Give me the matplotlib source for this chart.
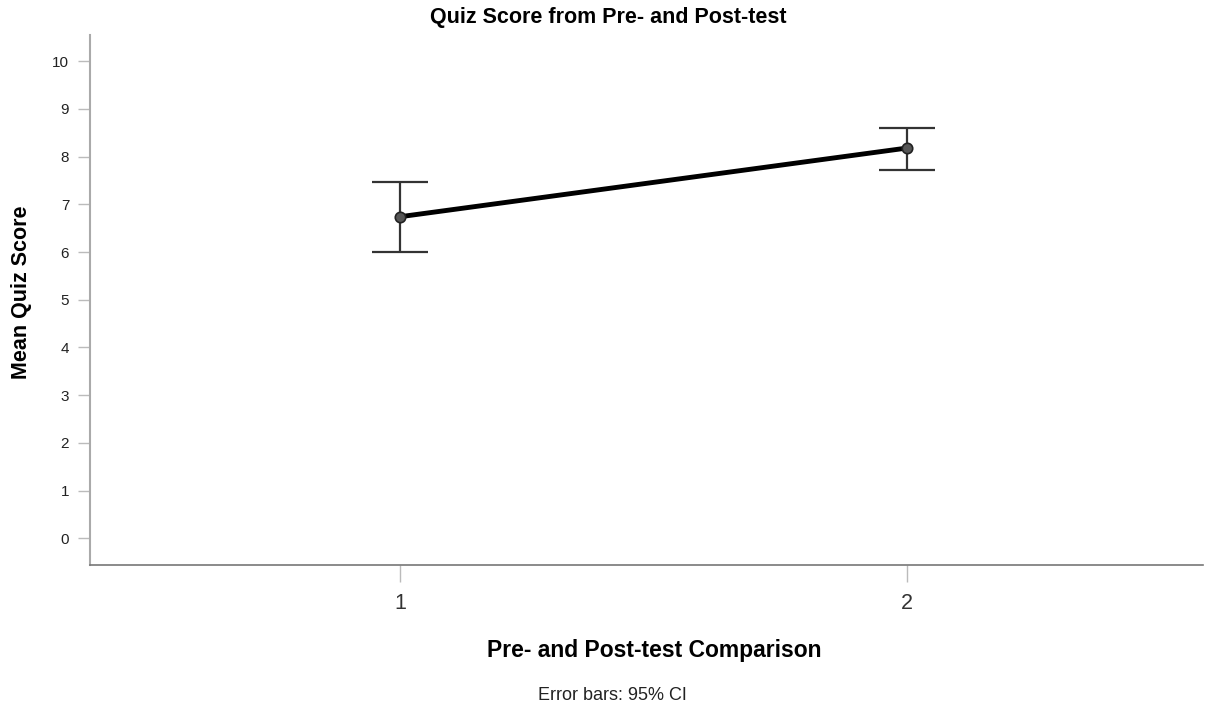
import numpy as np
import matplotlib
matplotlib.use('Agg')
import matplotlib.pyplot as plt

plt.rcParams['font.family'] = ['Liberation Sans', 'DejaVu Sans']

# data
groups = [1, 2]
means = [6.74, 8.18]
ci_low = [6.01, 7.73]
ci_high = [7.46, 8.61]

yerr = np.array([np.subtract(means, ci_low), np.subtract(ci_high, means)])

W, H = 1225, 711
fig = plt.figure(figsize=(W / 100, H / 100), dpi=100)
ax = fig.add_axes([90 / W, 1 - 565 / H, 1113 / W, 530 / H])

ax.errorbar(groups, means, yerr=yerr, fmt='none', ecolor='#333333',
            elinewidth=1.6, capsize=20, capthick=1.6, zorder=2)
ax.plot(groups, means, '-', color='black', linewidth=3.5, zorder=3)
ax.plot(groups, means, 'o', color='#555555', markeredgecolor='#222222',
        markersize=7.5, markeredgewidth=1.2, zorder=4)

ax.set_xlim(0.389, 2.584)
ax.set_ylim(-0.56, 10.55)
ax.set_xticks(groups)
ax.set_yticks(range(0, 11))
ax.tick_params(axis='y', labelsize=11, length=9, width=1, color='#bbbbbb', pad=6,
               labelcolor='#222222')
ax.tick_params(axis='x', labelsize=15.5, length=12, width=1, color='#bbbbbb', pad=8,
               labelcolor='#333333')

for side in ['top', 'right']:
    ax.spines[side].set_visible(False)
ax.spines['left'].set_color('#aaaaaa')
ax.spines['left'].set_linewidth(1.5)
ax.spines['bottom'].set_color('#777777')
ax.spines['bottom'].set_linewidth(1.2)

fig.text(608 / W, 1 - 18 / H, 'Quiz Score from Pre- and Post-test',
         fontsize=15.5, fontweight='bold', ha='center', va='center')
fig.text(654 / W, 1 - 651 / H, 'Pre- and Post-test Comparison',
         fontsize=16.5, fontweight='bold', ha='center', va='center')
fig.text(22 / W, 1 - 292 / H, 'Mean Quiz Score', fontsize=15.5,
         fontweight='bold', ha='center', va='center', rotation=90)
fig.text(612 / W, 1 - 695 / H, 'Error bars: 95% CI', fontsize=13,
         ha='center', va='center', color='#222222')

fig.savefig('out.png', dpi=100)
